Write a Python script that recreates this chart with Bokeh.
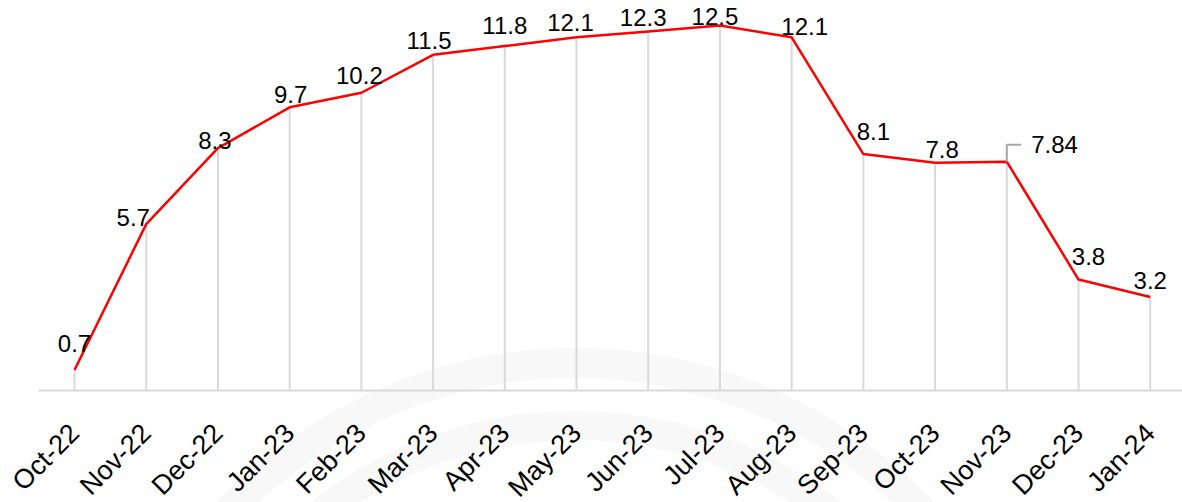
import math
from bokeh.plotting import figure
from bokeh.models import Range1d, ColumnDataSource
from bokeh.core.properties import value
from bokeh.embed import file_html
from bokeh.resources import INLINE

months = ["Oct-22", "Nov-22", "Dec-22", "Jan-23", "Feb-23", "Mar-23", "Apr-23", "May-23",
          "Jun-23", "Jul-23", "Aug-23", "Sep-23", "Oct-23", "Nov-23", "Dec-23", "Jan-24"]
rates = [0.7, 5.7, 8.3, 9.7, 10.2, 11.5, 11.8, 12.1, 12.3, 12.5, 12.1, 8.1, 7.8, 7.84, 3.8, 3.2]
label_texts = ["0.7", "5.7", "8.3", "9.7", "10.2", "11.5", "11.8", "12.1", "12.3", "12.5",
               "12.1", "8.1", "7.8", "", "3.8", "3.2"]

# label placement offsets (pixels, screen): horizontal shift, vertical shift of label centre
lab_dx = [0, -13, -3, 1, -2, -4, 0, -6, -5, -5, 13, 10, 7, 0, 10, 0]
lab_dy = [-27, -7, -8, -13, -17, -14, -21, -15, -14, -9, -11, -23, -13, 0, -23, -17]

idx = list(range(len(months)))
FONT = "Liberation Sans"
X_LO, X_HI = -1.032, 15.45

# frame covers the whole canvas; the category axis line is drawn at value 0
p = figure(width=1182, height=502, output_backend="svg", toolbar_location=None,
           x_range=Range1d(X_LO, X_HI), y_range=Range1d(-3.837, 13.36),
           min_border_left=0, min_border_right=0, min_border_top=0, min_border_bottom=0)
p.outline_line_color = None
p.background_fill_color = "white"
p.border_fill_color = "white"
p.xgrid.visible = False
p.ygrid.visible = False
p.xaxis.visible = False
p.yaxis.visible = False

# faint background watermark (two concentric bands)
wm_x, wm_y = 6.985, -15.5
p.annulus(x=[wm_x, wm_x], y=[wm_y, wm_y], inner_radius=[465, 403], outer_radius=[495, 432],
          inner_radius_units="screen", outer_radius_units="screen",
          fill_color="#f8f8f8", line_color=None)

# axis line across the category bands
p.segment(x0=[idx[0] - 0.5], y0=[0], x1=[X_HI], y1=[0], line_color="#d9d9d9", line_width=2)

# drop lines
p.segment(x0=idx, y0=[0] * len(idx), x1=idx, y1=rates, line_color="#d9d9d9", line_width=2)

# main line
p.line(idx, rates, line_color="#ff0000", line_width=2.5)

# data labels
src = ColumnDataSource(dict(x=idx, y=rates, t=label_texts, dx=lab_dx, dy=lab_dy))
p.text(x="x", y="y", text="t", x_offset="dx", y_offset="dy", source=src,
       text_align="center", text_baseline="middle",
       text_font=value(FONT), text_font_size="24px", text_color="#000000")

# callout for Nov-23 label
ci = 13
cy = rates[ci] + 0.58
cx = ci + 0.2
p.line([ci, ci, cx], [rates[ci], cy, cy], line_color="#a6a6a6", line_width=2)
p.text(x=[cx + 0.14], y=[cy], text=["7.84"], text_align="left", text_baseline="middle",
       text_font=value(FONT), text_font_size="24px", text_color="#000000")

# category labels, rotated 45 degrees below the axis line
cat_src = ColumnDataSource(dict(x=idx, y=[0] * len(idx), t=months))
p.text(x="x", y="y", text="t", source=cat_src, angle=math.pi / 4, y_offset=38,
       text_align="right", text_baseline="middle",
       text_font=value(FONT), text_font_size="27px", text_color="#000000")

open("out.html", "w").write(file_html(p, INLINE))
